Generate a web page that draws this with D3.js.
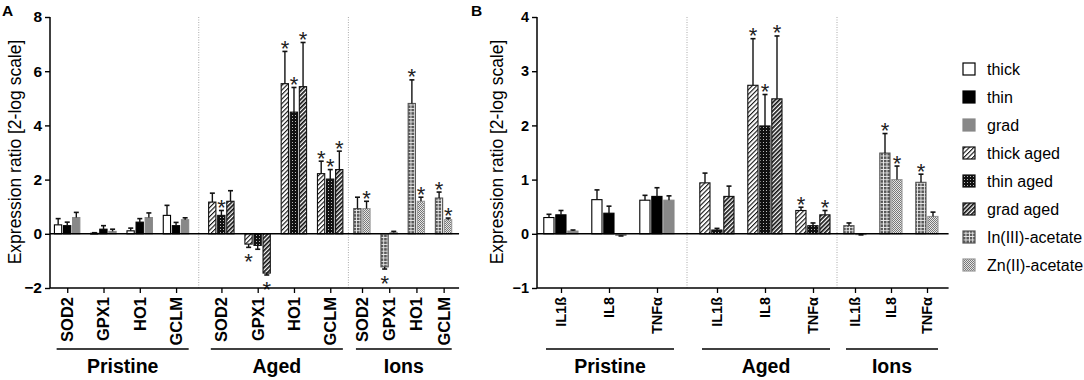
<!DOCTYPE html>
<html><head><meta charset="utf-8">
<script src="https://cdn.jsdelivr.net/npm/d3@7"></script>
<style>
body{margin:0;background:#fff}
text{font-family:Arial,"Liberation Sans",sans-serif}
</style>
</head><body>
<svg id="c" width="1084" height="380"></svg>
<script>
// ---------- data ----------
const seriesNames = ["thick","thin","grad","thick aged","thin aged","grad aged","In(III)-acetate","Zn(II)-acetate"];
const groupNames = ["Pristine","Aged","Ions"];
const groupSeries = [[0,1,2],[3,4,5],[6,7]];
const genesA = ["SOD2","GPX1","HO1","GCLM"];
const genesB = ["IL1ß","IL8","TNFα"];
const yTicksA = [-2,0,2,4,6,8];
const yTicksB = [-1,0,1,2,3,4];
const yTitle = "Expression ratio [2-log scale]";

// Panel A values (per series, per gene), error (SEM), significance
const A_thick      = [0.33, 0.02, 0.11, 0.68];
const A_thick_err  = [0.23, 0.02, 0.10, 0.37];
const A_thin       = [0.30, 0.17, 0.43, 0.30];
const A_thin_err   = [0.13, 0.13, 0.13, 0.12];
const A_grad       = [0.60, 0.09, 0.60, 0.52];
const A_grad_err   = [0.19, 0.08, 0.17, 0.07];
const A_thickAged     = [1.17, -0.38, 5.54, 2.22];
const A_thickAged_err = [0.33, 0.12, 1.19, 0.46];
const A_thinAged      = [0.68, -0.43, 4.49, 2.02];
const A_thinAged_err  = [0.18, 0.14, 0.91, 0.35];
const A_gradAged      = [1.20, -1.45, 5.43, 2.37];
const A_gradAged_err  = [0.39, 0.07, 1.63, 0.68];
const A_In      = [0.93, -1.22, 4.81, 1.32];
const A_In_err  = [0.42, 0.08, 0.87, 0.22];
const A_Zn      = [0.93, 0.05, 1.20, 0.52];
const A_Zn_err  = [0.27, 0.04, 0.15, 0.06];
const A_sig_thickAged = [0,1,1,1];
const A_sig_thinAged  = [1,0,1,1];
const A_sig_gradAged  = [0,1,1,1];
const A_sig_In = [0,1,1,1];
const A_sig_Zn = [1,0,1,1];

// Panel B values
const B_thick      = [0.30, 0.63, 0.62];
const B_thick_err  = [0.06, 0.18, 0.09];
const B_thin       = [0.35, 0.38, 0.69];
const B_thin_err   = [0.08, 0.13, 0.16];
const B_grad       = [0.05, -0.03, 0.62];
const B_grad_err   = [0.02, 0.01, 0.08];
const B_thickAged     = [0.94, 2.74, 0.43];
const B_thickAged_err = [0.18, 0.86, 0.06];
const B_thinAged      = [0.07, 1.99, 0.15];
const B_thinAged_err  = [0.03, 0.58, 0.05];
const B_gradAged      = [0.69, 2.49, 0.35];
const B_gradAged_err  = [0.19, 1.16, 0.08];
const B_In      = [0.15, 1.49, 0.95];
const B_In_err  = [0.05, 0.36, 0.15];
const B_Zn      = [-0.01, 1.00, 0.32];
const B_Zn_err  = [0.01, 0.25, 0.08];
const B_sig_thickAged = [0,1,1];
const B_sig_thinAged  = [0,1,0];
const B_sig_gradAged  = [0,1,1];
const B_sig_In = [0,1,1];
const B_sig_Zn = [0,1,0];

const none4 = [0,0,0,0], none3 = [0,0,0];
const A_vals = [A_thick,A_thin,A_grad,A_thickAged,A_thinAged,A_gradAged,A_In,A_Zn];
const A_errs = [A_thick_err,A_thin_err,A_grad_err,A_thickAged_err,A_thinAged_err,A_gradAged_err,A_In_err,A_Zn_err];
const A_sigs = [none4,none4,none4,A_sig_thickAged,A_sig_thinAged,A_sig_gradAged,A_sig_In,A_sig_Zn];
const B_vals = [B_thick,B_thin,B_grad,B_thickAged,B_thinAged,B_gradAged,B_In,B_Zn];
const B_errs = [B_thick_err,B_thin_err,B_grad_err,B_thickAged_err,B_thinAged_err,B_gradAged_err,B_In_err,B_Zn_err];
const B_sigs = [none3,none3,none3,B_sig_thickAged,B_sig_thinAged,B_sig_gradAged,B_sig_In,B_sig_Zn];

// ---------- svg + patterns ----------
const svg = d3.select("#c");
const defs = svg.append("defs");
function hatch(id, size, lw){
  const p = defs.append("pattern").attr("id",id).attr("patternUnits","userSpaceOnUse")
    .attr("width",size).attr("height",size).attr("patternTransform","rotate(45)");
  p.append("rect").attr("width",size).attr("height",size).attr("fill","#fff");
  p.append("rect").attr("width",lw).attr("height",size).attr("fill","#111");
}
hatch("pThickAged", 3.2, 1.1);
hatch("pGradAged", 3.0, 1.7);
{
  const p = defs.append("pattern").attr("id","pThinAged").attr("patternUnits","userSpaceOnUse").attr("width",3).attr("height",3);
  p.append("rect").attr("width",3).attr("height",3).attr("fill","#111");
  p.append("rect").attr("x",1).attr("y",1).attr("width",1).attr("height",1).attr("fill","#bbb");
}
{
  const p = defs.append("pattern").attr("id","pIn").attr("patternUnits","userSpaceOnUse").attr("width",3.4).attr("height",3.4);
  p.append("rect").attr("width",3.4).attr("height",3.4).attr("fill","#eee");
  p.append("rect").attr("width",2.5).attr("height",2.5).attr("fill","#555");
}
{
  const p = defs.append("pattern").attr("id","pZn").attr("patternUnits","userSpaceOnUse").attr("width",2).attr("height",2);
  p.append("rect").attr("width",2).attr("height",2).attr("fill","#e6e6e6");
  p.append("rect").attr("width",1).attr("height",1).attr("fill","#777");
  p.append("rect").attr("x",1).attr("y",1).attr("width",1).attr("height",1).attr("fill","#777");
}
const seriesFill = ["#fff","#000","#888","url(#pThickAged)","url(#pThinAged)","url(#pGradAged)","url(#pIn)","url(#pZn)"];
const seriesStroke = ["#000","#000","#888","#111","#111","#111","#555","#999"];

// ---------- panel drawing ----------
function drawPanel(cfg){
  const {genes, vals, errs, sigs, x0, unit, padStart, padEnd, groupGaps, yDomain, yTicks, tickFont, yTickFont, label, labelX, titleX} = cfg;
  const bars = [], cats = [], groups = [], seps = [];
  let u = padStart;
  groupNames.forEach((g, gi) => {
    const gs = u;
    genes.forEach((gene, ci) => {
      const cs = u;
      groupSeries[gi].forEach(si => { bars.push({gi, ci, si, u}); u += 1; });
      cats.push({gene, c: (cs + u)/2});
      if (ci < genes.length-1) u += 1;
    });
    groups.push({name:g, s:gs, e:u});
    if (gi < groupNames.length-1){ seps.push(u + groupGaps[gi]/2); u += groupGaps[gi]; }
  });
  const total = u + padEnd;
  const x = d3.scaleLinear().domain([0,total]).range([x0, x0 + total*unit]);
  const y = d3.scaleLinear().domain(yDomain).range([288, 17]);
  const g = svg.append("g");

  g.selectAll(".sep").data(seps).join("line")
    .attr("x1", d=>x(d)).attr("x2", d=>x(d)).attr("y1", y(yDomain[1])).attr("y2", y(yDomain[0]))
    .attr("stroke","#aaa").attr("stroke-width",1).attr("stroke-dasharray","1,1.5");

  g.selectAll(".bar").data(bars).join("rect")
    .attr("x", d=>x(d.u)+0.8).attr("width", unit-1.8)
    .attr("y", d=>{const v=vals[d.si][d.ci]; return Math.min(y(v), y(0));})
    .attr("height", d=>{const v=vals[d.si][d.ci]; return Math.max(0.8, Math.abs(y(v)-y(0)));})
    .attr("fill", d=>seriesFill[d.si]).attr("stroke", d=>seriesStroke[d.si]).attr("stroke-width",1.1);

  const tip = d => {const v=vals[d.si][d.ci]; return y(v + Math.sign(v||1)*errs[d.si][d.ci]);};
  const eb = g.selectAll(".eb").data(bars).join("g");
  eb.append("line")
    .attr("x1", d=>x(d.u+0.5)).attr("x2", d=>x(d.u+0.5))
    .attr("y1", d=>y(vals[d.si][d.ci])).attr("y2", tip)
    .attr("stroke","#111").attr("stroke-width",1.4);
  eb.append("line")
    .attr("x1", d=>x(d.u+0.5)-2.5).attr("x2", d=>x(d.u+0.5)+2.5)
    .attr("y1", tip).attr("y2", tip)
    .attr("stroke","#111").attr("stroke-width",1.6);

  g.selectAll(".star").data(bars.filter(d=>sigs[d.si][d.ci])).join("text")
    .attr("x", d=>x(d.u+0.5)).attr("text-anchor","middle")
    .attr("y", d=>{const v=vals[d.si][d.ci]; const cy = tip(d); return v>=0 ? cy+4.5 : cy+22;})
    .attr("font-size",22).attr("fill","#222").text("*");

  g.append("line").attr("x1", x(0)).attr("x2", x(total)).attr("y1", y(0)).attr("y2", y(0)).attr("stroke","#000").attr("stroke-width",1.5);
  const bottom = g.append("g").attr("transform",`translate(0,${y(yDomain[0])})`)
    .call(d3.axisBottom(x).tickValues(cats.map(c=>c.c)).tickSize(5).tickFormat(""));
  bottom.select(".domain").attr("d", `M${x(0)},0H${x(total)}`).attr("stroke","#000").attr("stroke-width",1.5);
  bottom.selectAll(".tick line").attr("stroke","#000").attr("stroke-width",1.3);
  g.selectAll(".cl").data(cats).join("text")
    .attr("transform", d=>`translate(${x(d.c)+tickFont*0.36},${y(yDomain[0])+9}) rotate(-90)`)
    .attr("text-anchor","end").attr("font-weight","bold").attr("font-size",tickFont).attr("fill","#000")
    .text(d=>d.gene);

  const ya = g.append("g").attr("transform",`translate(${x0},0)`)
    .call(d3.axisLeft(y).tickValues(yTicks).tickSize(5).tickPadding(3).tickFormat(d3.format("d")));
  ya.select(".domain").attr("d", `M0,${y(yDomain[1])}V${y(yDomain[0])}`).attr("stroke","#000").attr("stroke-width",1.5);
  ya.selectAll(".tick line").attr("stroke","#000").attr("stroke-width",1.4);
  ya.selectAll(".tick text").attr("font-size",yTickFont).attr("font-weight","bold").attr("fill","#000")
    .attr("font-family",'Arial,"Liberation Sans",sans-serif');

  g.append("text").attr("transform",`translate(${titleX},${152}) rotate(-90)`)
    .attr("text-anchor","middle").attr("font-size",17.5).attr("fill","#000").text(yTitle);

  groups.forEach(gr=>{
    const a = x(gr.s)+3, b = x(gr.e)-1;
    g.append("line").attr("x1",a).attr("x2",b).attr("y1",349).attr("y2",349).attr("stroke","#000").attr("stroke-width",1.6);
    g.append("text").attr("x",(a+b)/2).attr("y",373).attr("text-anchor","middle")
      .attr("font-size",19.5).attr("font-weight","bold").attr("fill","#000").text(gr.name);
  });

  g.append("text").attr("x",labelX).attr("y",16).attr("font-size",15.5).attr("font-weight","bold").text(label);
}

drawPanel({genes:genesA, vals:A_vals, errs:A_errs, sigs:A_sigs, x0:50, unit:9.07, padStart:0.4, padEnd:0.7,
  groupGaps:[2,1], yDomain:[-2,8], yTicks:yTicksA, tickFont:16.5, yTickFont:15.5, label:"A", labelX:2, titleX:21});
drawPanel({genes:genesB, vals:B_vals, errs:B_errs, sigs:B_sigs, x0:537, unit:12, padStart:0.5, padEnd:0.8,
  groupGaps:[2,1], yDomain:[-1,4], yTicks:yTicksB, tickFont:14.5, yTickFont:14.5, label:"B", labelX:471, titleX:503});

// ---------- legend ----------
const leg = svg.append("g").selectAll("g").data(seriesNames).join("g")
  .attr("transform",(d,i)=>`translate(963,${69 + i*28})`);
leg.append("rect").attr("x",0).attr("y",-6).attr("width",12).attr("height",12)
  .attr("fill",(d,i)=>seriesFill[i]).attr("stroke",(d,i)=>seriesStroke[i]).attr("stroke-width",1.2);
leg.append("text").attr("x",24).attr("y",5.5).attr("font-size",16).attr("fill","#000").text(d=>d);
</script>
</body></html>
